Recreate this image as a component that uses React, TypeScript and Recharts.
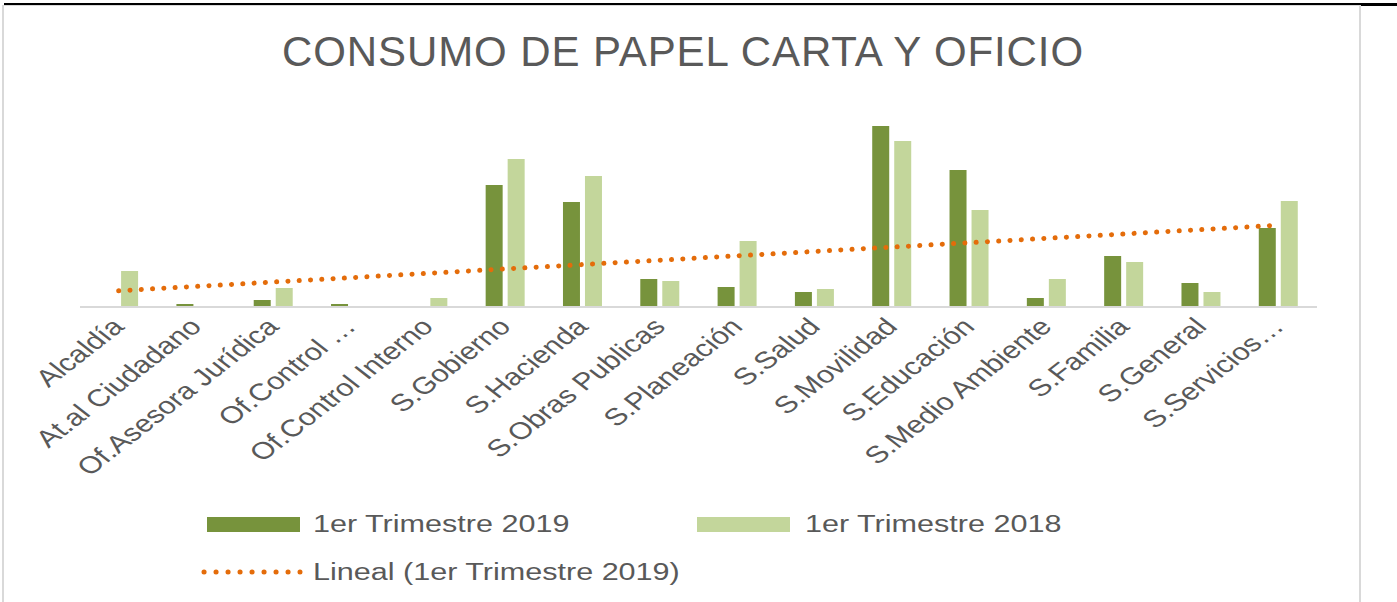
import { ComposedChart, Bar, Line, XAxis, YAxis, Legend } from "recharts";

const categories = [
  "Alcaldía",
  "At.al Ciudadano",
  "Of.Asesora Jurídica",
  "Of.Control …",
  "Of.Control Interno",
  "S.Gobierno",
  "S.Hacienda",
  "S.Obras Publicas",
  "S.Planeación",
  "S.Salud",
  "S.Movilidad",
  "S.Educación",
  "S.Medio Ambiente",
  "S.Familia",
  "S.General",
  "S.Servicios…",
];

const trim2019 = [0, 3, 7, 3, 0, 122, 105, 28, 20, 15, 181, 137, 9, 51, 24, 79];
const trim2018 = [36, 0, 19, 0, 9, 148, 131, 26, 66, 18, 166, 97, 28, 45, 15, 106];

const DARK = "#77933C";
const LIGHT = "#C3D69B";
const ORANGE = "#E46C0A";
const TEXT = "#595959";
const FONT = "'Liberation Sans', Arial, sans-serif";
const STRETCH = 1.28;

// linear trendline (least squares) over the 2019 series, like Excel's "Lineal"
const n = trim2019.length;
const xMean = (n + 1) / 2;
const yMean = trim2019.reduce((a, b) => a + b, 0) / n;
let sxy = 0;
let sxx = 0;
trim2019.forEach((v, i) => {
  sxy += (i + 1 - xMean) * (v - yMean);
  sxx += (i + 1 - xMean) ** 2;
});
const slope = sxy / sxx;
const intercept = yMean - slope * xMean;

const data = categories.map((name, i) => ({
  name,
  t2019: trim2019[i],
  t2018: trim2018[i],
  trend: intercept + slope * (i + 1),
}));

function AngledTick({ x, y, payload }: any) {
  return (
    <g transform={`translate(${x + 7},${y + 13}) scale(${STRETCH},1)`}>
      <text
        x={0}
        y={0}
        transform="rotate(-45)"
        textAnchor="end"
        fontSize={24}
        fontFamily={FONT}
        fill={TEXT}
      >
        {payload.value}
      </text>
    </g>
  );
}

const labelStyle = {
  position: "absolute" as const,
  fontFamily: FONT,
  fontSize: 23.5,
  color: TEXT,
  lineHeight: "26px",
  whiteSpace: "nowrap" as const,
  transform: `scaleX(1.3)`,
  transformOrigin: "left center",
};

function LegendBox() {
  return (
    <div style={{ position: "relative", width: 1397, height: 0 }}>
      <div style={{ position: "absolute", left: 207, top: 517, width: 93, height: 15, background: DARK }} />
      <div style={{ ...labelStyle, left: 313, top: 511 }}>1er Trimestre 2019</div>
      <div style={{ position: "absolute", left: 697, top: 517, width: 93, height: 15, background: LIGHT }} />
      <div style={{ ...labelStyle, left: 805, top: 511 }}>1er Trimestre 2018</div>
      <svg style={{ position: "absolute", left: 200, top: 566 }} width={104} height={12}>
        <line
          x1={4}
          y1={6}
          x2={100}
          y2={6}
          stroke={ORANGE}
          strokeWidth={5}
          strokeLinecap="round"
          strokeDasharray="0.1 11.9"
        />
      </svg>
      <div style={{ ...labelStyle, left: 313, top: 559 }}>Lineal (1er Trimestre 2019)</div>
    </div>
  );
}

export default function App() {
  return (
    <div
      style={{
        position: "absolute",
        left: 0,
        top: 0,
        width: 1397,
        height: 602,
        background: "#fff",
        overflow: "hidden",
      }}
    >
      <div style={{ position: "absolute", left: 4, top: 3, width: 1355, height: 2, background: "#000" }} />
      <div style={{ position: "absolute", left: 1359, top: 3, width: 38, height: 3, background: "#000" }} />
      <div
        style={{
          position: "absolute",
          left: 2,
          top: 5,
          width: 1355,
          height: 620,
          border: "2px solid #d9d9d9",
          borderTopWidth: 1,
        }}
      />
      <div
        style={{
          position: "absolute",
          left: 4,
          top: 31,
          width: 1358,
          textAlign: "center",
          fontFamily: FONT,
          fontSize: 42,
          lineHeight: "42px",
          letterSpacing: 0.9,
          color: TEXT,
        }}
      >
        CONSUMO DE PAPEL CARTA Y OFICIO
      </div>
      <div style={{ position: "absolute", left: 0, top: 0 }}>
        <ComposedChart
          width={1397}
          height={602}
          data={data}
          margin={{ top: 107, right: 80, bottom: 145, left: 80 }}
          barCategoryGap="24.7%"
          barGap={5}
        >
          <XAxis
            dataKey="name"
            interval={0}
            tickLine={false}
            axisLine={{ stroke: "#d9d9d9", strokeWidth: 2 }}
            tick={<AngledTick />}
            height={150}
          />
          <YAxis hide domain={[0, 200]} />
          <Bar dataKey="t2019" name="1er Trimestre 2019" fill={DARK} isAnimationActive={false} />
          <Bar dataKey="t2018" name="1er Trimestre 2018" fill={LIGHT} isAnimationActive={false} />
          <Line
            dataKey="trend"
            name="Lineal (1er Trimestre 2019)"
            stroke={ORANGE}
            strokeWidth={5}
            strokeLinecap="round"
            strokeDasharray="0.1 11.2"
            dot={false}
            activeDot={false}
            isAnimationActive={false}
          />
          <Legend
            layout="horizontal"
            verticalAlign="middle"
            align="center"
            content={() => <LegendBox />}
            wrapperStyle={{ left: 0, top: 0, width: 1397, height: 0 }}
          />
        </ComposedChart>
      </div>
    </div>
  );
}
